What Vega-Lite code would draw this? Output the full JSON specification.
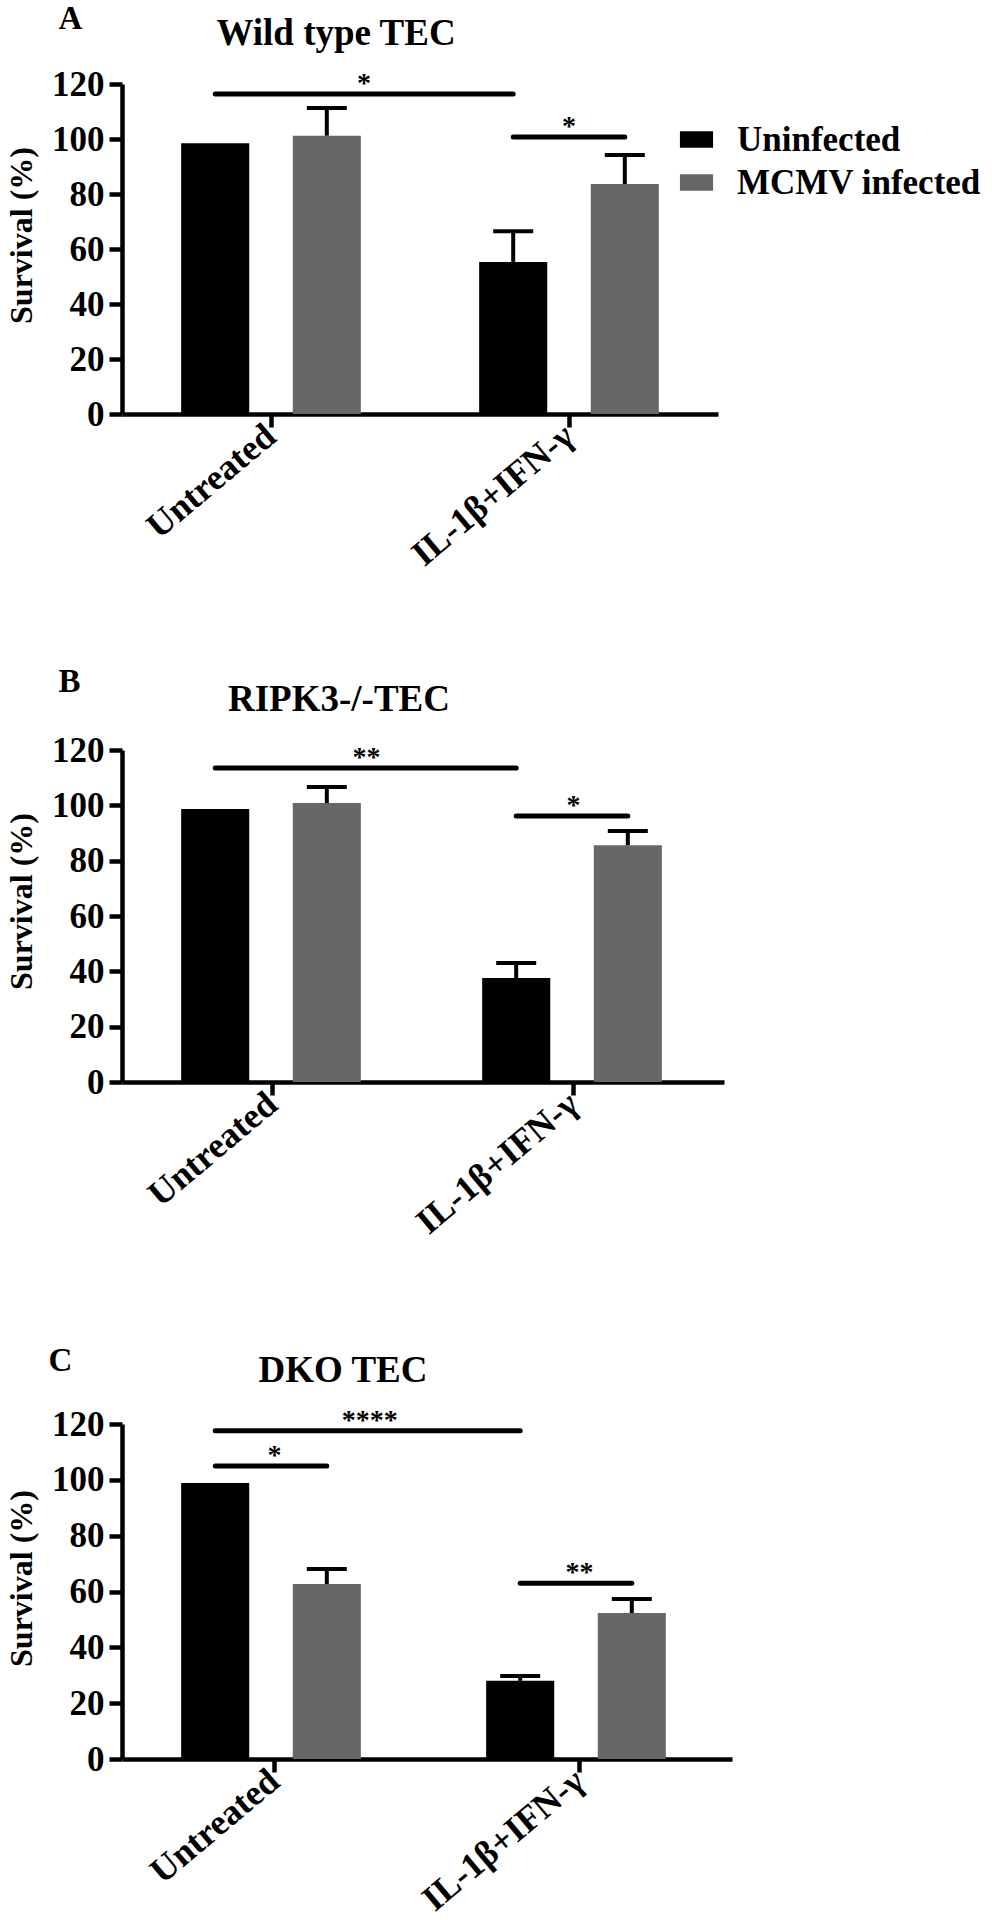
{
  "$schema": "https://vega.github.io/schema/vega-lite/v6.json",
  "padding": {"left": 5, "top": 3, "right": 4, "bottom": 4},
  "background": "white",
  "config": {
    "font": "Liberation Serif",
    "view": {"stroke": null},
    "axis": {
      "labelFont": "Liberation Serif", "labelFontWeight": "bold", "labelFontSize": 35, "labelColor": "black",
      "titleFont": "Liberation Serif", "titleFontWeight": "bold", "titleFontSize": 32, "titleColor": "black",
      "domainColor": "black", "tickColor": "black", "domainWidth": 4.5, "tickWidth": 4.5, "tickSize": 13, "grid": false
    },
    "axisX": {"labelFontSize": 36, "labelLimit": 500},
    "title": {"font": "Liberation Serif", "fontWeight": "bold", "fontSize": 37, "color": "black"}
  },
  "datasets": {
    "bars": [
      {"panel": "A", "treatment": "Untreated", "infection": "Uninfected", "survival": 98.5, "upper": null},
      {"panel": "A", "treatment": "Untreated", "infection": "MCMV infected", "survival": 101.2, "upper": 111.3},
      {"panel": "A", "treatment": "IL-1β+IFN-γ", "infection": "Uninfected", "survival": 55.3, "upper": 66.5},
      {"panel": "A", "treatment": "IL-1β+IFN-γ", "infection": "MCMV infected", "survival": 83.6, "upper": 94.2},
      {"panel": "B", "treatment": "Untreated", "infection": "Uninfected", "survival": 98.7, "upper": null},
      {"panel": "B", "treatment": "Untreated", "infection": "MCMV infected", "survival": 100.8, "upper": 106.6},
      {"panel": "B", "treatment": "IL-1β+IFN-γ", "infection": "Uninfected", "survival": 37.6, "upper": 43.0},
      {"panel": "B", "treatment": "IL-1β+IFN-γ", "infection": "MCMV infected", "survival": 85.6, "upper": 90.7},
      {"panel": "C", "treatment": "Untreated", "infection": "Uninfected", "survival": 98.9, "upper": null},
      {"panel": "C", "treatment": "Untreated", "infection": "MCMV infected", "survival": 62.7, "upper": 68.1},
      {"panel": "C", "treatment": "IL-1β+IFN-γ", "infection": "Uninfected", "survival": 28.0, "upper": 29.7},
      {"panel": "C", "treatment": "IL-1β+IFN-γ", "infection": "MCMV infected", "survival": 52.3, "upper": 57.3}
    ],
    "sig": [
      {"panel": "A", "bracket": "A1", "end": "start", "treatment": "Untreated", "infection": "Uninfected", "y": 116.4, "stars": "*"},
      {"panel": "A", "bracket": "A1", "end": "end", "treatment": "IL-1β+IFN-γ", "infection": "Uninfected", "y": 116.4, "stars": "*"},
      {"panel": "A", "bracket": "A2", "end": "start", "treatment": "IL-1β+IFN-γ", "infection": "Uninfected", "y": 100.7, "stars": "*"},
      {"panel": "A", "bracket": "A2", "end": "end", "treatment": "IL-1β+IFN-γ", "infection": "MCMV infected", "y": 100.7, "stars": "*"},
      {"panel": "B", "bracket": "B1", "end": "start", "treatment": "Untreated", "infection": "Uninfected", "y": 113.5, "stars": "**"},
      {"panel": "B", "bracket": "B1", "end": "end", "treatment": "IL-1β+IFN-γ", "infection": "Uninfected", "y": 113.5, "stars": "**"},
      {"panel": "B", "bracket": "B2", "end": "start", "treatment": "IL-1β+IFN-γ", "infection": "Uninfected", "y": 96.1, "stars": "*"},
      {"panel": "B", "bracket": "B2", "end": "end", "treatment": "IL-1β+IFN-γ", "infection": "MCMV infected", "y": 96.1, "stars": "*"},
      {"panel": "C", "bracket": "C1", "end": "start", "treatment": "Untreated", "infection": "Uninfected", "y": 117.6, "stars": "****"},
      {"panel": "C", "bracket": "C1", "end": "end", "treatment": "IL-1β+IFN-γ", "infection": "Uninfected", "y": 117.6, "stars": "****"},
      {"panel": "C", "bracket": "C2", "end": "start", "treatment": "Untreated", "infection": "Uninfected", "y": 105.0, "stars": "*"},
      {"panel": "C", "bracket": "C2", "end": "end", "treatment": "Untreated", "infection": "MCMV infected", "y": 105.0, "stars": "*"},
      {"panel": "C", "bracket": "C3", "end": "start", "treatment": "IL-1β+IFN-γ", "infection": "Uninfected", "y": 63.0, "stars": "**"},
      {"panel": "C", "bracket": "C3", "end": "end", "treatment": "IL-1β+IFN-γ", "infection": "MCMV infected", "y": 63.0, "stars": "**"}
    ]
  },
  "resolve": {"scale": {"color": "independent"}},
  "spacing": 93,
  "vconcat": [
    {
      "title": {"text": "A", "anchor": "start", "frame": "bounds", "dx": 53, "offset": -21, "fontSize": 33},
      "resolve": {"scale": {"color": "independent"}},
      "vconcat": [
        {
          "title": {"text": "Wild type TEC", "anchor": "middle", "frame": "group", "dx": -84, "offset": 14},
          "width": 596, "height": 330,
          "layer": [
            {
              "data": {"name": "bars"}, "transform": [{"filter": "datum.panel === 'A'"}],
              "mark": {"type": "bar"},
              "encoding": {
                "x": {"field": "treatment", "type": "nominal", "title": null, "scale": {"domain": ["Untreated", "IL-1β+IFN-γ"], "paddingInner": 0, "paddingOuter": 0}, "axis": {"labelAngle": -40, "labelAlign": "right", "labelBaseline": "middle", "labelPadding": 4}},
                "xOffset": {"field": "infection", "type": "nominal", "scale": {"domain": ["Uninfected", "MCMV infected"], "paddingInner": 0.39, "paddingOuter": 0.53}},
                "y": {"field": "survival", "type": "quantitative", "title": "Survival (%)", "scale": {"domain": [0, 120], "nice": false}, "axis": {"values": [0, 20, 40, 60, 80, 100, 120], "labelPadding": 5, "titlePadding": 13, "titleY": 151}},
                "color": {"field": "infection", "type": "nominal", "scale": {"domain": ["Uninfected", "MCMV infected"], "range": ["#000000", "#676767"]},
                  "legend": {"orient": "none", "legendX": 557, "legendY": 38, "title": null, "symbolType": "M-1,-0.5H1V0.5H-1Z", "symbolSize": 1100, "symbolStrokeWidth": 0, "labelFont": "Liberation Serif", "labelFontWeight": "bold", "labelFontSize": 35, "labelColor": "black", "labelOffset": 23, "labelLimit": 400, "rowPadding": 7, "padding": 0}}
              }
            },
            {
              "data": {"name": "bars"}, "transform": [{"filter": "datum.panel === 'A' && datum.upper != null"}],
              "mark": {"type": "rule", "color": "black", "strokeWidth": 4},
              "encoding": {
                "x": {"field": "treatment", "type": "nominal"},
                "xOffset": {"field": "infection", "type": "nominal"},
                "y": {"field": "survival", "type": "quantitative"},
                "y2": {"field": "upper"}
              }
            },
            {
              "data": {"name": "bars"}, "transform": [{"filter": "datum.panel === 'A' && datum.upper != null"}],
              "mark": {"type": "tick", "color": "black", "size": 40, "thickness": 4, "orient": "horizontal", "opacity": 1},
              "encoding": {
                "x": {"field": "treatment", "type": "nominal"},
                "xOffset": {"field": "infection", "type": "nominal"},
                "y": {"field": "upper", "type": "quantitative"}
              }
            },
            {
              "data": {"name": "sig"}, "transform": [{"filter": "datum.panel === 'A'"}],
              "mark": {"type": "line", "color": "black", "strokeWidth": 5, "strokeCap": "round"},
              "encoding": {
                "x": {"field": "treatment", "type": "nominal"},
                "xOffset": {"field": "infection", "type": "nominal"},
                "y": {"field": "y", "type": "quantitative"},
                "detail": {"field": "bracket"}
              }
            },
            {
              "data": {"name": "sig"},
              "transform": [{"filter": "datum.panel === 'A'"}, {"joinaggregate": [{"op": "distinct", "field": "treatment", "as": "nt"}], "groupby": ["bracket"]}, {"filter": "datum.end === 'start' && datum.nt === 2"}],
              "mark": {"type": "text", "font": "Liberation Serif", "fontWeight": "bold", "fontSize": 28, "baseline": "alphabetic", "dy": -2, "color": "black"},
              "encoding": {
                "x": {"field": "treatment", "type": "nominal", "bandPosition": 0.812},
                "y": {"field": "y", "type": "quantitative"},
                "text": {"field": "stars"}
              }
            },
            {
              "data": {"name": "sig"},
              "transform": [{"filter": "datum.panel === 'A'"}, {"joinaggregate": [{"op": "distinct", "field": "treatment", "as": "nt"}], "groupby": ["bracket"]}, {"filter": "datum.end === 'start' && datum.nt === 1"}],
              "mark": {"type": "text", "font": "Liberation Serif", "fontWeight": "bold", "fontSize": 28, "baseline": "alphabetic", "dy": -2, "color": "black"},
              "encoding": {
                "x": {"field": "treatment", "type": "nominal", "bandPosition": 0.5},
                "y": {"field": "y", "type": "quantitative"},
                "text": {"field": "stars"}
              }
            }
          ]
        }
      ]
    },
    {
      "spacing": 103,
      "resolve": {"scale": {"color": "independent"}},
      "vconcat": [
        {
          "title": {"text": "B", "anchor": "start", "frame": "bounds", "dx": 53, "offset": -18, "fontSize": 33},
          "resolve": {"scale": {"color": "independent"}},
          "vconcat": [
            {
              "title": {"text": "RIPK3-/-TEC", "anchor": "middle", "frame": "group", "dx": -84, "offset": 14},
              "width": 602, "height": 332,
              "layer": [
                {
                  "data": {"name": "bars"}, "transform": [{"filter": "datum.panel === 'B'"}],
                  "mark": {"type": "bar"},
                  "encoding": {
                    "x": {"field": "treatment", "type": "nominal", "title": null, "scale": {"domain": ["Untreated", "IL-1β+IFN-γ"], "paddingInner": 0, "paddingOuter": 0}, "axis": {"labelAngle": -40, "labelAlign": "right", "labelBaseline": "middle", "labelPadding": 4}},
                    "xOffset": {"field": "infection", "type": "nominal", "scale": {"domain": ["Uninfected", "MCMV infected"], "paddingInner": 0.39, "paddingOuter": 0.53}},
                    "y": {"field": "survival", "type": "quantitative", "title": "Survival (%)", "scale": {"domain": [0, 120], "nice": false}, "axis": {"values": [0, 20, 40, 60, 80, 100, 120], "labelPadding": 5, "titlePadding": 13, "titleY": 151}},
                    "color": {"field": "infection", "type": "nominal", "scale": {"domain": ["Uninfected", "MCMV infected"], "range": ["#000000", "#676767"]}, "legend": null}
                  }
                },
                {
                  "data": {"name": "bars"}, "transform": [{"filter": "datum.panel === 'B' && datum.upper != null"}],
                  "mark": {"type": "rule", "color": "black", "strokeWidth": 4},
                  "encoding": {
                    "x": {"field": "treatment", "type": "nominal"},
                    "xOffset": {"field": "infection", "type": "nominal"},
                    "y": {"field": "survival", "type": "quantitative"},
                    "y2": {"field": "upper"}
                  }
                },
                {
                  "data": {"name": "bars"}, "transform": [{"filter": "datum.panel === 'B' && datum.upper != null"}],
                  "mark": {"type": "tick", "color": "black", "size": 40, "thickness": 4, "orient": "horizontal", "opacity": 1},
                  "encoding": {
                    "x": {"field": "treatment", "type": "nominal"},
                    "xOffset": {"field": "infection", "type": "nominal"},
                    "y": {"field": "upper", "type": "quantitative"}
                  }
                },
                {
                  "data": {"name": "sig"}, "transform": [{"filter": "datum.panel === 'B'"}],
                  "mark": {"type": "line", "color": "black", "strokeWidth": 5, "strokeCap": "round"},
                  "encoding": {
                    "x": {"field": "treatment", "type": "nominal"},
                    "xOffset": {"field": "infection", "type": "nominal"},
                    "y": {"field": "y", "type": "quantitative"},
                    "detail": {"field": "bracket"}
                  }
                },
                {
                  "data": {"name": "sig"},
                  "transform": [{"filter": "datum.panel === 'B'"}, {"joinaggregate": [{"op": "distinct", "field": "treatment", "as": "nt"}], "groupby": ["bracket"]}, {"filter": "datum.end === 'start' && datum.nt === 2"}],
                  "mark": {"type": "text", "font": "Liberation Serif", "fontWeight": "bold", "fontSize": 28, "baseline": "alphabetic", "dy": -2, "color": "black"},
                  "encoding": {
                    "x": {"field": "treatment", "type": "nominal", "bandPosition": 0.812},
                    "y": {"field": "y", "type": "quantitative"},
                    "text": {"field": "stars"}
                  }
                },
                {
                  "data": {"name": "sig"},
                  "transform": [{"filter": "datum.panel === 'B'"}, {"joinaggregate": [{"op": "distinct", "field": "treatment", "as": "nt"}], "groupby": ["bracket"]}, {"filter": "datum.end === 'start' && datum.nt === 1"}],
                  "mark": {"type": "text", "font": "Liberation Serif", "fontWeight": "bold", "fontSize": 28, "baseline": "alphabetic", "dy": -2, "color": "black"},
                  "encoding": {
                    "x": {"field": "treatment", "type": "nominal", "bandPosition": 0.5},
                    "y": {"field": "y", "type": "quantitative"},
                    "text": {"field": "stars"}
                  }
                }
              ]
            }
          ]
        },
        {
          "title": {"text": "C", "anchor": "start", "frame": "bounds", "dx": 43, "offset": -26, "fontSize": 33},
          "resolve": {"scale": {"color": "independent"}},
          "vconcat": [
            {
              "title": {"text": "DKO TEC", "anchor": "middle", "frame": "group", "dx": -84, "offset": 17},
              "width": 610, "height": 335,
              "layer": [
                {
                  "data": {"name": "bars"}, "transform": [{"filter": "datum.panel === 'C'"}],
                  "mark": {"type": "bar"},
                  "encoding": {
                    "x": {"field": "treatment", "type": "nominal", "title": null, "scale": {"domain": ["Untreated", "IL-1β+IFN-γ"], "paddingInner": 0, "paddingOuter": 0}, "axis": {"labelAngle": -40, "labelAlign": "right", "labelBaseline": "middle", "labelPadding": 4}},
                    "xOffset": {"field": "infection", "type": "nominal", "scale": {"domain": ["Uninfected", "MCMV infected"], "paddingInner": 0.39, "paddingOuter": 0.53}},
                    "y": {"field": "survival", "type": "quantitative", "title": "Survival (%)", "scale": {"domain": [0, 120], "nice": false}, "axis": {"values": [0, 20, 40, 60, 80, 100, 120], "labelPadding": 5, "titlePadding": 13, "titleY": 154}},
                    "color": {"field": "infection", "type": "nominal", "scale": {"domain": ["Uninfected", "MCMV infected"], "range": ["#000000", "#676767"]}, "legend": null}
                  }
                },
                {
                  "data": {"name": "bars"}, "transform": [{"filter": "datum.panel === 'C' && datum.upper != null"}],
                  "mark": {"type": "rule", "color": "black", "strokeWidth": 4},
                  "encoding": {
                    "x": {"field": "treatment", "type": "nominal"},
                    "xOffset": {"field": "infection", "type": "nominal"},
                    "y": {"field": "survival", "type": "quantitative"},
                    "y2": {"field": "upper"}
                  }
                },
                {
                  "data": {"name": "bars"}, "transform": [{"filter": "datum.panel === 'C' && datum.upper != null"}],
                  "mark": {"type": "tick", "color": "black", "size": 40, "thickness": 4, "orient": "horizontal", "opacity": 1},
                  "encoding": {
                    "x": {"field": "treatment", "type": "nominal"},
                    "xOffset": {"field": "infection", "type": "nominal"},
                    "y": {"field": "upper", "type": "quantitative"}
                  }
                },
                {
                  "data": {"name": "sig"}, "transform": [{"filter": "datum.panel === 'C'"}],
                  "mark": {"type": "line", "color": "black", "strokeWidth": 5, "strokeCap": "round"},
                  "encoding": {
                    "x": {"field": "treatment", "type": "nominal"},
                    "xOffset": {"field": "infection", "type": "nominal"},
                    "y": {"field": "y", "type": "quantitative"},
                    "detail": {"field": "bracket"}
                  }
                },
                {
                  "data": {"name": "sig"},
                  "transform": [{"filter": "datum.panel === 'C'"}, {"joinaggregate": [{"op": "distinct", "field": "treatment", "as": "nt"}], "groupby": ["bracket"]}, {"filter": "datum.end === 'start' && datum.nt === 2"}],
                  "mark": {"type": "text", "font": "Liberation Serif", "fontWeight": "bold", "fontSize": 28, "baseline": "alphabetic", "dy": -2, "color": "black"},
                  "encoding": {
                    "x": {"field": "treatment", "type": "nominal", "bandPosition": 0.812},
                    "y": {"field": "y", "type": "quantitative"},
                    "text": {"field": "stars"}
                  }
                },
                {
                  "data": {"name": "sig"},
                  "transform": [{"filter": "datum.panel === 'C'"}, {"joinaggregate": [{"op": "distinct", "field": "treatment", "as": "nt"}], "groupby": ["bracket"]}, {"filter": "datum.end === 'start' && datum.nt === 1"}],
                  "mark": {"type": "text", "font": "Liberation Serif", "fontWeight": "bold", "fontSize": 28, "baseline": "alphabetic", "dy": -2, "color": "black"},
                  "encoding": {
                    "x": {"field": "treatment", "type": "nominal", "bandPosition": 0.5},
                    "y": {"field": "y", "type": "quantitative"},
                    "text": {"field": "stars"}
                  }
                }
              ]
            }
          ]
        }
      ]
    }
  ]
}
